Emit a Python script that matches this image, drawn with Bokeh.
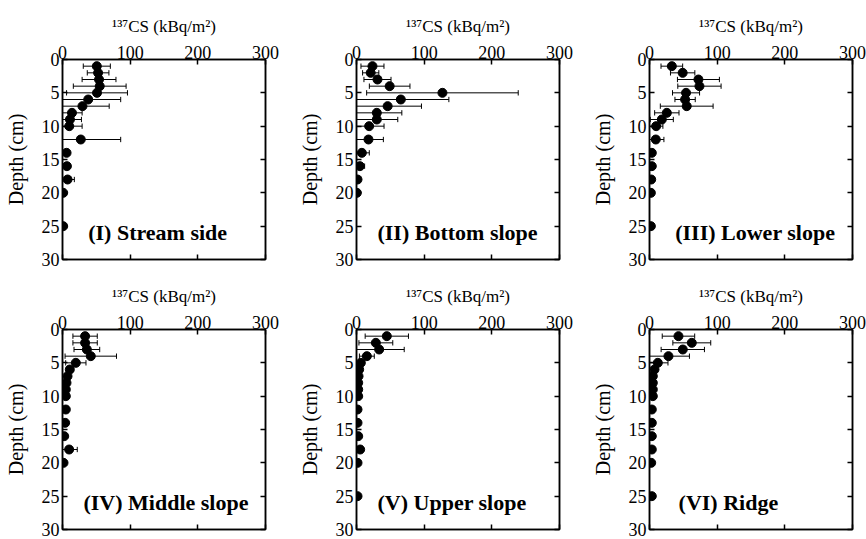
from bokeh.plotting import figure
from bokeh.models import Range1d, LinearAxis, FixedTicker, Label, ColumnDataSource
from bokeh.layouts import gridplot
from bokeh.embed import file_html
from bokeh.resources import INLINE

# ---------------- data ----------------
depth_I = [1, 2, 3, 4, 5, 6, 7, 8, 9, 10, 12, 14, 16, 18, 20, 25]
cs_I = [50.7, 52.6, 54, 55, 51, 38, 29.5, 14, 11, 10, 27, 6, 6.5, 7.5, 1, 1]
err_I = [20, 16, 25, 39, 45, 48, 39.5, 15, 17, 19, 59, 0, 0, 10, 0, 0]

depth_II = [1, 2, 3, 4, 5, 6, 7, 8, 9, 10, 12, 14, 16, 18, 20]
cs_II = [23.6, 21, 31, 49, 127, 65.5, 46, 30, 30, 18.7, 17.7, 7.9, 5, 1.5, 0.5]
err_II = [17, 12, 20, 30, 112, 71, 50, 37, 31, 22, 22, 11, 7, 0, 0]

depth_III = [1, 2, 3, 4, 5, 6, 7, 8, 9, 10, 12, 14, 16, 18, 20, 25]
cs_III = [33, 49, 72.3, 73.8, 54, 52.6, 55, 25.6, 18.2, 9.8, 9.3, 3.4, 3.4, 2.5, 2, 2]
err_III = [16, 18, 31, 32, 20, 15, 39, 18, 17, 10, 12, 0, 0, 0, 0, 0]

depth_IV = [1, 2, 3, 4, 5, 6, 7, 8, 9, 10, 12, 14, 16, 18, 20]
cs_IV = [33.4, 33.4, 36, 41.8, 19.7, 10.8, 7.4, 5.9, 4.9, 4.9, 4.9, 3.9, 2.5, 9.8, 1.5]
err_IV = [18, 18, 19, 38, 15, 5, 3, 2, 2, 2, 0, 0, 0, 12, 0]

depth_V = [1, 2, 3, 4, 5, 6, 7, 8, 9, 10, 12, 14, 16, 18, 20, 25]
cs_V = [44.8, 28.6, 33.5, 15.3, 6.4, 3.9, 3, 2.5, 2.5, 2.5, 1.5, 1.5, 2.5, 5.4, 1.5, 1.5]
err_V = [32, 25, 37, 11, 3, 2, 0, 0, 0, 0, 0, 0, 0, 2, 0, 0]

depth_VI = [1, 2, 3, 4, 5, 6, 7, 8, 9, 10, 12, 14, 16, 18, 20, 25]
cs_VI = [42.8, 62.5, 49.2, 28, 12.3, 7.4, 4.9, 4.9, 4.9, 4.9, 3.4, 3.4, 3.4, 3.4, 2.5, 3.4]
err_VI = [24, 28, 32, 31, 15, 3, 0, 0, 0, 0, 0, 0, 0, 0, 0, 0]

panel_names = ["(I) Stream side", "(II) Bottom slope", "(III) Lower slope",
               "(IV) Middle slope", "(V) Upper slope", "(VI) Ridge"]
x_ticks = [0, 100, 200, 300]
y_ticks = [0, 5, 10, 15, 20, 25, 30]
x_title = "\u00b9\u00b3\u2077CS (kBq/m\u00b2)"
y_title = "Depth (cm)"

SERIF = "Liberation Serif"


def make_panel(name, depth, cs, err, width, height, left_border, right_border,
               top_border, bottom_border, label_x):
    p = figure(width=width, height=height, output_backend="svg", toolbar_location=None,
               x_range=Range1d(0, 300), y_range=Range1d(30, 0), x_axis_location="above",
               min_border_left=left_border, min_border_right=right_border,
               min_border_top=top_border, min_border_bottom=bottom_border)
    p.grid.visible = False
    p.outline_line_color = "black"
    p.outline_line_width = 1.5
    p.background_fill_color = "white"
    p.border_fill_color = "white"

    ax = p.xaxis[0]
    ax.ticker = FixedTicker(ticks=x_ticks)
    ax.axis_label = x_title
    ax.axis_label_text_font = SERIF
    ax.axis_label_text_font_size = "17px"
    ax.axis_label_text_font_style = "normal"
    ax.axis_label_standoff = 7
    ax.major_label_text_font = SERIF
    ax.major_label_text_font_size = "18px"
    ax.major_label_standoff = 1

    ay = p.yaxis[0]
    ay.ticker = FixedTicker(ticks=y_ticks)
    ay.axis_label = y_title
    ay.axis_label_text_font = SERIF
    ay.axis_label_text_font_size = "20px"
    ay.axis_label_text_font_style = "normal"
    ay.axis_label_standoff = 12
    ay.major_label_text_font = SERIF
    ay.major_label_text_font_size = "18px"
    ay.major_label_standoff = 3

    bx = LinearAxis(ticker=FixedTicker(ticks=x_ticks),
                    major_label_overrides={t: "" for t in x_ticks},
                    major_label_text_font_size="8px", major_label_standoff=0)
    p.add_layout(bx, "below")
    ry = LinearAxis(ticker=FixedTicker(ticks=y_ticks),
                    major_label_overrides={t: "" for t in y_ticks},
                    major_label_text_font_size="8px", major_label_standoff=0)
    p.add_layout(ry, "right")

    for a in [ax, ay, bx, ry]:
        a.axis_line_width = 1.5
        a.axis_line_color = "black"
        a.major_tick_in = 5
        a.major_tick_out = 0
        a.major_tick_line_width = 1.5
        a.minor_tick_line_color = None
        a.major_label_text_color = "black"
        a.axis_label_text_color = "black"

    lo = [c - e for c, e in zip(cs, err)]
    hi = [c + e for c, e in zip(cs, err)]
    idx = [i for i, e in enumerate(err) if e > 0]
    eb = ColumnDataSource(dict(
        d=[depth[i] for i in idx], lo=[lo[i] for i in idx], hi=[hi[i] for i in idx],
        dt=[depth[i] - 0.4 for i in idx], db=[depth[i] + 0.4 for i in idx]))
    p.segment(x0="lo", y0="d", x1="hi", y1="d", source=eb, line_color="black", line_width=1)
    p.segment(x0="lo", y0="dt", x1="lo", y1="db", source=eb, line_color="black", line_width=1)
    p.segment(x0="hi", y0="dt", x1="hi", y1="db", source=eb, line_color="black", line_width=1)

    p.scatter(x=cs, y=depth, size=9, marker="circle", fill_color="black", line_color="black")

    p.add_layout(Label(x=label_x, y=26.0, text=name, text_font=SERIF,
                       text_font_style="bold", text_font_size="22px",
                       text_baseline="middle", text_align="left", text_color="black"))
    return p


widths = [294, 293, 279]
heights = [270, 269]
lefts = [62, 62, 62]
rights = [29, 28, 14]
tops = [59, 59]
bottoms = [11, 10]
label_xs = [38, 31, 38, 31, 31, 43]
all_data = [(depth_I, cs_I, err_I), (depth_II, cs_II, err_II), (depth_III, cs_III, err_III),
            (depth_IV, cs_IV, err_IV), (depth_V, cs_V, err_V), (depth_VI, cs_VI, err_VI)]

figs = []
for k in range(6):
    r, c = divmod(k, 3)
    d, v, e = all_data[k]
    figs.append(make_panel(panel_names[k], d, v, e, widths[c], heights[r], lefts[c], rights[c],
                           tops[r], bottoms[r], label_xs[k]))

grid = gridplot([figs[0:3], figs[3:6]], toolbar_location=None)
open("out.html", "w").write(file_html(grid, INLINE))
